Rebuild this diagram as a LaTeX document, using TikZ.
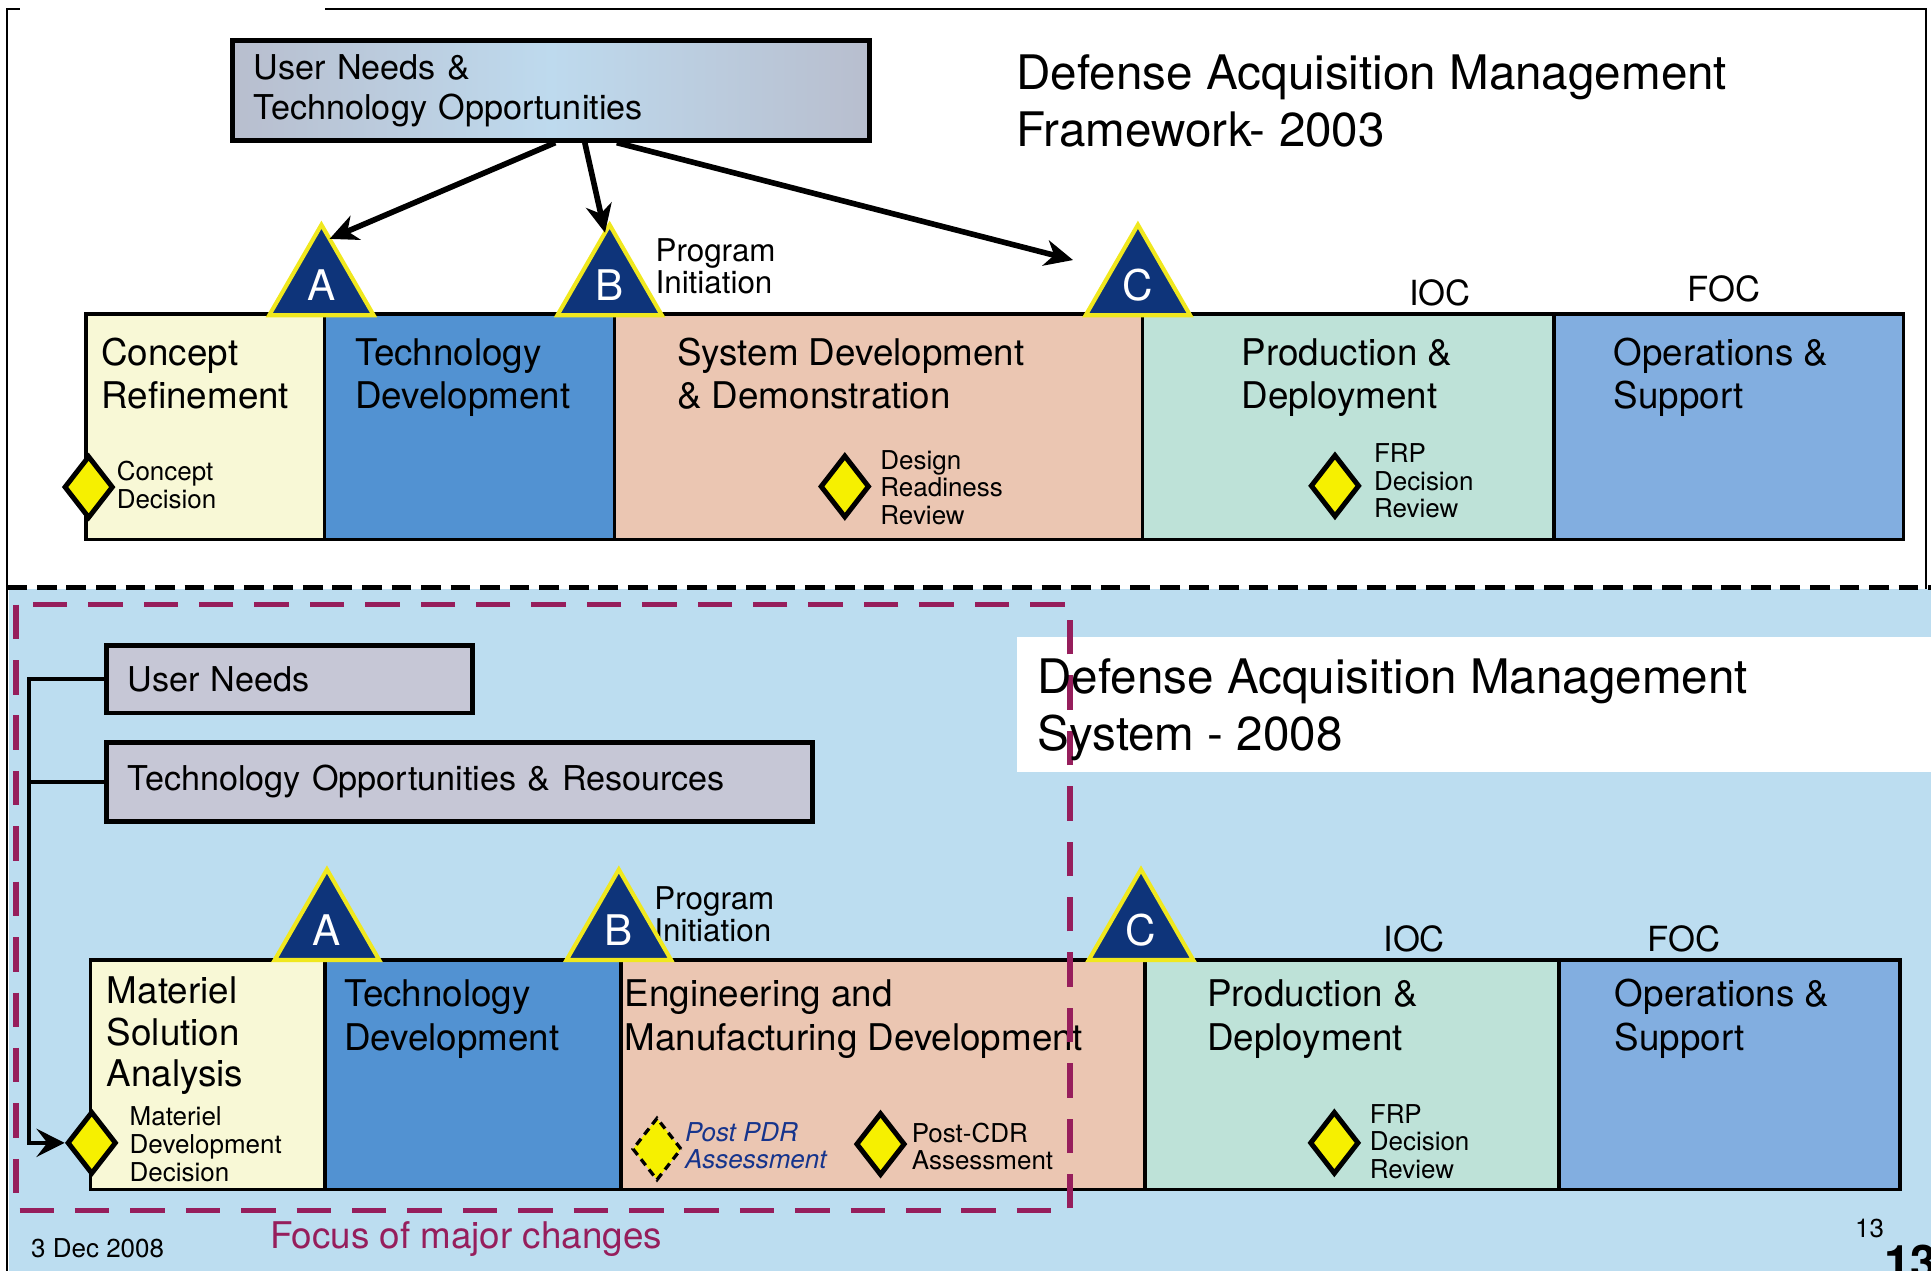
\documentclass[tikz,border=0pt]{standalone}
\usepackage{fontspec}
\setmainfont{TeX Gyre Heros}
\usepackage{tikz}
\usetikzlibrary{positioning,shapes.geometric,arrows.meta}

\definecolor{crfill}{RGB}{248,248,214}
\definecolor{tdfill}{RGB}{82,146,210}
\definecolor{sdfill}{RGB}{235,198,178}
\definecolor{pdfill}{RGB}{190,226,216}
\definecolor{osfill}{RGB}{130,174,224}
\definecolor{navy}{RGB}{14,52,122}
\definecolor{gateyellow}{RGB}{240,232,30}
\definecolor{msyellow}{RGB}{246,240,0}
\definecolor{skyblue}{RGB}{188,221,240}
\definecolor{maroon}{RGB}{150,30,92}
\definecolor{postblue}{RGB}{22,52,140}
\definecolor{needgray}{RGB}{184,190,206}
\definecolor{needblue}{RGB}{190,218,238}
\definecolor{needlav}{RGB}{198,199,214}

\tikzstyle{phase} = [rectangle, draw=black, line width=1.7pt, outer sep=0pt, inner sep=0pt, minimum height=3.66cm]
\tikzstyle{phasetxt} = [anchor=base west, align=left, inner sep=0pt, font=\fontsize{17}{20}\selectfont]
\tikzstyle{need} = [rectangle, draw=black, line width=2.2pt, anchor=north west, align=left, inner xsep=0.34cm, inner ysep=0pt, font=\fontsize{15.8}{18.4}\selectfont]
\tikzstyle{heading} = [anchor=base west, align=left, inner sep=0pt, font=\fontsize{22}{26.5}\selectfont]
\tikzstyle{gate} = [regular polygon, regular polygon sides=3, minimum size=1.96cm, fill=navy, draw=gateyellow, line width=1.9pt, outer sep=0pt, inner sep=0pt, text=white, font=\fontsize{19.5}{19.5}\selectfont, anchor=side 2]
\tikzstyle{review} = [diamond, minimum width=0.8cm, minimum height=1.02cm, inner sep=0pt, fill=msyellow, draw=black, line width=2.3pt]
\tikzstyle{remark} = [anchor=base west, align=left, inner sep=0pt, font=\fontsize{12}{12.8}\selectfont]
\tikzstyle{mile} = [anchor=base west, inner sep=0pt, font=\fontsize{16}{16}\selectfont]
\tikzstyle{initiation} = [anchor=base west, align=left, inner sep=0pt, font=\fontsize{14.5}{14.8}\selectfont]
\tikzstyle{arrow} = [line width=2.6pt, -{Stealth[length=13pt,width=12pt,inset=4pt]}]
\tikzstyle{feed} = [line width=1.8pt, -{Stealth[length=13pt,width=13pt,inset=5pt]}]

\begin{document}
\begin{tikzpicture}[x=0.02cm, y=-0.02cm]
	\useasboundingbox (0,0) rectangle (1568,1032);

	% frame
	\draw[line width=1pt] (16,7) -- (6,7) -- (6,1032);
	\draw[line width=1pt] (264,7) -- (1564,7) -- (1564,517);

	% 2003 framework
	\node (un) [need, shade, left color=needgray, right color=needgray, middle color=needblue, minimum width=10.34cm, minimum height=1.62cm, text width=9.66cm] at (187,31) {User Needs \&\\Technology Opportunities};
	\node (t03) [heading] at (825,119) {Defense Acquisition Management\\Framework- 2003};

	\node (cr) [phase, fill=crfill, minimum width=3.87cm, anchor=north west] at (70,255) {};
	\node (td) [phase, fill=tdfill, minimum width=4.71cm, right=0pt of cr] {};
	\node (sdd) [phase, fill=sdfill, minimum width=8.58cm, right=0pt of td] {};
	\node (pd) [phase, fill=pdfill, minimum width=6.68cm, right=0pt of sdd] {};
	\node (os) [phase, fill=osfill, minimum width=5.68cm, right=0pt of pd] {};

	\node (crt) [phasetxt] at (82,332) {Concept\\Refinement};
	\node (tdt) [phasetxt] at (288,332) {Technology\\Development};
	\node (sddt) [phasetxt] at (549.5,332) {System Development\\\& Demonstration};
	\node (pdt) [phasetxt] at (1008,332) {Production \&\\Deployment};
	\node (ost) [phasetxt] at (1310,332) {Operations \&\\Support};

	\node (cd) [review] at (72,395.5) {};
	\node (cdt) [remark] at (94.5,413) {Concept\\Decision};
	\node (drr) [review] at (686,395) {};
	\node (drrt) [remark] at (714.6,426) {Design\\Readiness\\Review};
	\node (frp) [review] at (1084,394.5) {};
	\node (frpt) [remark] at (1115.4,420.6) {FRP\\Decision\\Review};

	\node (ioc) [mile] at (1144,248) {IOC};
	\node (foc) [mile] at (1370,245) {FOC};
	\node (pi) [initiation] at (532,238) {Program\\Initiation};

	\node (ga) [gate] at (261,256) {A};
	\node (gb) [gate] at (495,256) {B};
	\node (gc) [gate] at (924,256) {C};

	\draw [arrow] ([xshift=0.07cm]un.south) -- (ga.80);
	\draw [arrow] ([xshift=0.55cm]un.south) -- (gb.95);
	\draw [arrow, shorten >=0.65cm] ([xshift=1.07cm]un.south) -- (gc.150);

	% 2008 system
	\fill[skyblue] (7,478) rectangle (1568,1032);
	\draw[line width=2pt, dash pattern=on 0.32cm off 0.16cm] (6,477) -- (1568,477);

	\node (un2) [need, fill=needlav, minimum width=5.95cm, minimum height=1.1cm, text width=5.27cm] at (84.5,522) {User Needs};
	\node (tor) [need, fill=needlav, minimum width=11.47cm, minimum height=1.28cm, text width=10.79cm] at (84.5,601) {Technology Opportunities \& Resources};

	\node (msa) [phase, fill=crfill, minimum width=3.81cm, minimum height=3.73cm, anchor=north west] at (73.6,779.5) {};
	\node (td2) [phase, fill=tdfill, minimum width=4.80cm, minimum height=3.73cm, right=0pt of msa] {};
	\node (emd) [phase, fill=sdfill, minimum width=8.52cm, minimum height=3.73cm, right=0pt of td2] {};
	\node (pd2) [phase, fill=pdfill, minimum width=6.72cm, minimum height=3.73cm, right=0pt of emd] {};
	\node (os2) [phase, fill=osfill, minimum width=5.54cm, minimum height=3.73cm, right=0pt of pd2] {};

	\node (msat) [phasetxt, font=\fontsize{17}{19.3}\selectfont] at (86.5,882.5) {Materiel\\Solution\\Analysis};
	\node (td2t) [phasetxt] at (279,852.6) {Technology\\Development};
	\node (emdt) [phasetxt] at (507,852.6) {Engineering and\\Manufacturing Development};
	\node (pd2t) [phasetxt] at (980,852.6) {Production \&\\Deployment};
	\node (os2t) [phasetxt] at (1311,852.6) {Operations \&\\Support};

	\node (mdd) [review] at (74.5,928) {};
	\node (mddt) [remark] at (105,959) {Materiel\\Development\\Decision};
	\node (ppdr) [review, line width=1.5pt, dash pattern=on 3.5pt off 2.5pt] at (533.5,933) {};
	\node (ppdrt) [remark, text=postblue, font=\fontsize{12}{12.3}\selectfont\itshape] at (556,948.6) {Post PDR\\Assessment};
	\node (pcdr) [review] at (715,929) {};
	\node (pcdrt) [remark] at (740,950) {Post-CDR\\Assessment};
	\node (frp2) [review] at (1083.5,928) {};
	\node (frp2t) [remark] at (1112,957) {FRP\\Decision\\Review};

	\node (ioc2) [mile] at (1123,773) {IOC};
	\node (foc2) [mile] at (1337.5,773) {FOC};
	\node (pi2) [initiation] at (531,764.4) {Program\\Initiation};

	\node (ga2) [gate] at (265.5,779.5) {A};
	\node (gb2) [gate] at (502.5,779.5) {B};
	\node (gc2) [gate] at (926.5,779.5) {C};

	\coordinate (trunk) at (23.5,600);
	\draw [feed] (un2.west) -| (trunk) |- (mdd.west);
	\draw [line width=1.8pt] (tor.west) -- (tor.west -| trunk);

	\fill[white] (825.5,517) rectangle (1568,627);
	\draw[maroon, line width=2.5pt, dash pattern=on 0.56cm off 0.34cm] (13,491) rectangle (869,983);
	\node (t08) [heading] at (842,609.4) {Defense Acquisition Management\\System - 2008};

	\node (focus) [phasetxt, text=maroon] at (219,1013.6) {Focus of major changes};
	\node (date) [remark] at (25,1020.7) {3 Dec 2008};
	\node (pg) [remark] at (1506,1005) {13};
	\node (pgbig) [anchor=base west, inner sep=0pt, font=\fontsize{22}{22}\selectfont\bfseries] at (1529.6,1039) {13};
\end{tikzpicture}
\end{document}
